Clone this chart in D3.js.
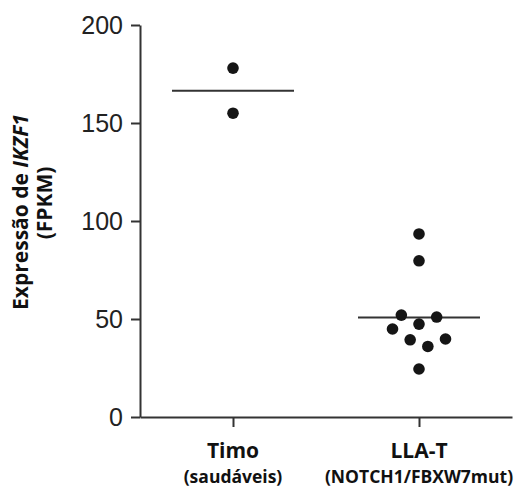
<!DOCTYPE html>
<html>
<head>
<meta charset="utf-8">
<script src="https://cdn.jsdelivr.net/npm/d3@7"></script>
<style>
  body { margin: 0; background: #fff; }
  svg { display: block; }
</style>
</head>
<body>
<svg width="520" height="490"></svg>
<script>
// categories and values
var categories = ["Timo", "LLA-T"];
var subLabels = ["(saudáveis)", "(NOTCH1/FBXW7mut)"];
var timoValues = [178, 155];
var llaValues = [93.4, 79.7, 52, 51, 47.4, 44.9, 39.4, 39.8, 36, 24.5];
// horizontal slot of each dot in the swarm (half-dot steps)
var timoSlots = [0, 0];
var llaSlots = [0, 0, -2, 2, 0, -3, -1, 3, 1, 0];
var yTicks = [0, 50, 100, 150, 200];

var svg = d3.select("svg");

var y = d3.scaleLinear().domain([0, 200]).range([417, 25]);
var x = d3.scalePoint().domain(categories).range([140, 512]).padding(0.5);
var jitter = d3.scaleLinear().domain([-3, 3]).range([-26.5, 26.5]);

var groups = [
  {cat: "Timo", values: timoValues, slots: timoSlots},
  {cat: "LLA-T", values: llaValues, slots: llaSlots}
];

// y axis
var yAxis = svg.append("g")
  .attr("transform", "translate(140,0)")
  .call(d3.axisLeft(y).tickValues(yTicks).tickSize(9).tickSizeOuter(0).tickPadding(8));
yAxis.select(".domain").attr("stroke", "#333").attr("stroke-width", 2);
yAxis.selectAll(".tick line").attr("stroke", "#333").attr("stroke-width", 2);
yAxis.selectAll(".tick text")
  .attr("font-family", "Liberation Sans, Arial, sans-serif")
  .attr("font-size", 25)
  .attr("fill", "#222");

// x axis
var xAxis = svg.append("g")
  .attr("transform", "translate(0,417)")
  .call(d3.axisBottom(x).tickSize(10).tickSizeOuter(0).tickFormat(""));
xAxis.select(".domain").attr("stroke", "#333").attr("stroke-width", 2);
xAxis.selectAll(".tick line").attr("stroke", "#333").attr("stroke-width", 2);

// category labels
svg.selectAll("text.cat")
  .data(categories)
  .enter().append("text")
  .attr("class", "cat")
  .attr("x", function(d){ return x(d); })
  .attr("y", 458)
  .attr("text-anchor", "middle")
  .attr("font-family", "Open Sans, sans-serif")
  .attr("font-weight", "bold")
  .attr("font-size", 21)
  .attr("fill", "#111")
  .text(function(d){ return d; });

svg.selectAll("text.sub")
  .data(subLabels)
  .enter().append("text")
  .attr("class", "sub")
  .attr("x", function(d, i){ return x(categories[i]); })
  .attr("y", 483)
  .attr("text-anchor", "middle")
  .attr("font-family", "Open Sans, sans-serif")
  .attr("font-weight", "bold")
  .attr("font-size", 17.5)
  .attr("fill", "#111")
  .text(function(d){ return d; });

// y title
var t1 = svg.append("text")
  .attr("transform", "translate(28,212) rotate(-90)")
  .attr("text-anchor", "middle")
  .attr("font-family", "Open Sans, sans-serif")
  .attr("font-weight", "bold")
  .attr("font-size", 21)
  .attr("fill", "#111");
t1.append("tspan").text("Expressão de ");
t1.append("tspan").attr("font-style", "italic").text("IKZF1");

svg.append("text")
  .attr("transform", "translate(52,203) rotate(-90)")
  .attr("text-anchor", "middle")
  .attr("font-family", "Open Sans, sans-serif")
  .attr("font-weight", "bold")
  .attr("font-size", 21)
  .attr("fill", "#111")
  .text("(FPKM)");

// mean lines
svg.selectAll("line.mean")
  .data(groups)
  .enter().append("line")
  .attr("class", "mean")
  .attr("x1", function(d){ return x(d.cat) - 61; })
  .attr("x2", function(d){ return x(d.cat) + 61; })
  .attr("y1", function(d){ return y(d3.mean(d.values)); })
  .attr("y2", function(d){ return y(d3.mean(d.values)); })
  .attr("stroke", "#333")
  .attr("stroke-width", 2);

// dots
groups.forEach(function(g){
  svg.append("g").selectAll("circle")
    .data(g.values)
    .enter().append("circle")
    .attr("cx", function(d, i){ return x(g.cat) + jitter(g.slots[i]); })
    .attr("cy", function(d){ return y(d); })
    .attr("r", 5.8)
    .attr("fill", "#151515");
});
</script>
</body>
</html>
